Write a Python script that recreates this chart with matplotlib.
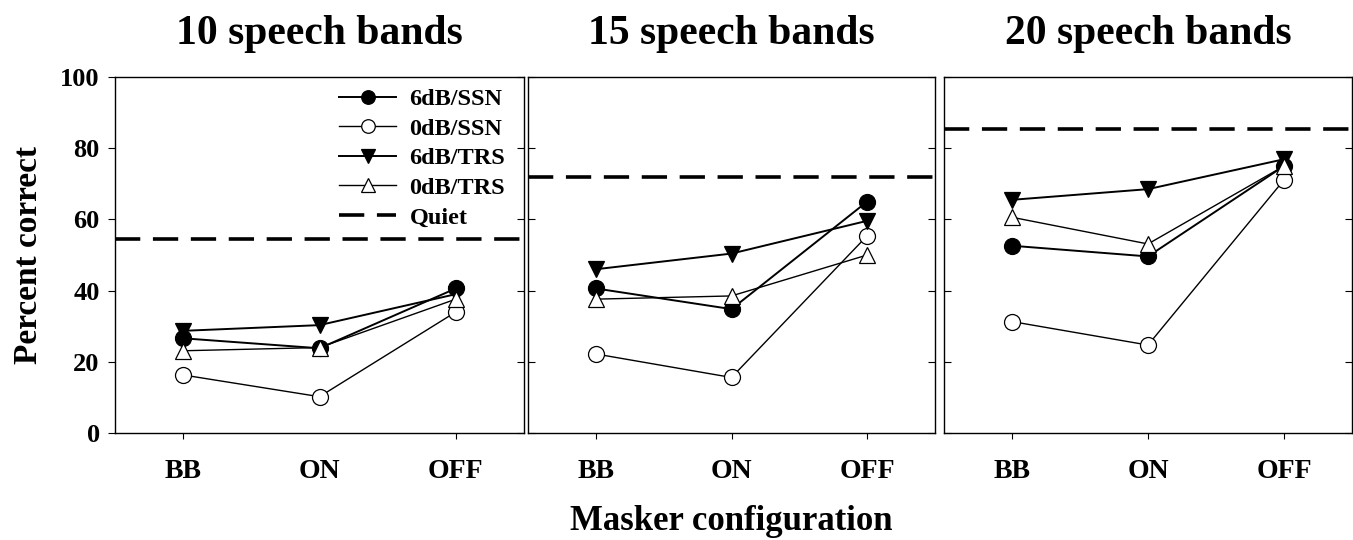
#!/usr/bin/env python3
"""
Percent correct by masker configuration for 10, 15 and 20 speech bands.
"""
import matplotlib
matplotlib.use("Agg")
import matplotlib.pyplot as plt

plt.rcParams['font.family'] = ['Liberation Serif', 'DejaVu Serif']
plt.rcParams['font.weight'] = 'bold'

# Data
maskers = ['BB', 'ON', 'OFF']
panels = ['10 speech bands', '15 speech bands', '20 speech bands']

ssn_6db = [[26.6, 23.8, 40.6], [40.6, 34.8, 65.0], [52.6, 49.6, 75.0]]
ssn_0db = [[16.3, 10.2, 34.0], [22.2, 15.6, 55.4], [31.3, 24.7, 71.1]]
trs_6db = [[28.7, 30.3, 39.0], [46.0, 50.4, 59.6], [65.5, 68.5, 76.9]]
trs_0db = [[23.1, 24.0, 37.6], [37.6, 38.5, 50.0], [60.6, 53.1, 75.0]]
quiet = [54.5, 71.8, 85.4]
yticks = [0, 20, 40, 60, 80, 100]

series = [
    ('6dB/SSN', ssn_6db, 'o', 'black', 1.4),
    ('0dB/SSN', ssn_0db, 'o', 'white', 1.0),
    ('6dB/TRS', trs_6db, 'v', 'black', 1.4),
    ('0dB/TRS', trs_0db, '^', 'white', 1.0),
]

fig = plt.figure(figsize=(13.53, 5.40), dpi=100)
lefts = [115, 528, 944]
widths = [409, 407, 408]
bottom, top = 540 - 433, 540 - 77

x = [1, 2, 3]
axes = []
for i, title in enumerate(panels):
    ax = fig.add_axes([lefts[i] / 1353, bottom / 540, widths[i] / 1353, (top - bottom) / 540])
    axes.append(ax)
    for label, vals, marker, face, lw in series:
        ax.plot(x, vals[i], color='black', lw=lw, marker=marker, markersize=11.5,
                markerfacecolor=face, markeredgecolor='black', markeredgewidth=0.9,
                label=label)
    ax.axhline(quiet[i], color='black', lw=2.6, dashes=(7, 3.5), label='Quiet')

    ax.set_xlim(0.5, 3.5)
    ax.set_ylim(0, 100)
    ax.set_xticks(x)
    ax.set_xticklabels(maskers, fontsize=20, fontweight='bold')
    ax.set_yticks(yticks)
    ax.tick_params(axis='x', direction='out', length=4, pad=15)
    ax.tick_params(axis='y', direction='in', length=5, right=True)
    if i == 0:
        ax.tick_params(axis='y', direction='out', labelsize=19, pad=6)
        ax.set_yticklabels([str(v) for v in yticks], fontweight='bold')
        ax.set_ylabel('Percent correct', fontsize=24, fontweight='bold', labelpad=12)
    else:
        ax.set_yticklabels([])
    for sp in ax.spines.values():
        sp.set_linewidth(1.0)
    ax.set_title(title, fontsize=30, fontweight='bold', pad=24)

# right ticks of first panel point inward, left ones outward
for t in axes[0].yaxis.get_major_ticks():
    t.tick2line.set_marker(0)
# the ON tick is not drawn on the first panel
axes[0].xaxis.get_major_ticks()[1].tick1line.set_visible(False)

axes[0].legend(loc='upper right', bbox_to_anchor=(0.978, 0.996), frameon=False,
               handlelength=2.35, handletextpad=0.55, labelspacing=0.31,
               borderaxespad=0.0, markerscale=0.85,
               prop={'weight': 'bold', 'size': 17.5})

fig.text(lefts[1] / 1353 + widths[1] / 1353 / 2, 0.003, 'Masker configuration',
         ha='center', va='bottom', fontsize=25, fontweight='bold')

fig.savefig('out.png', dpi=100)
